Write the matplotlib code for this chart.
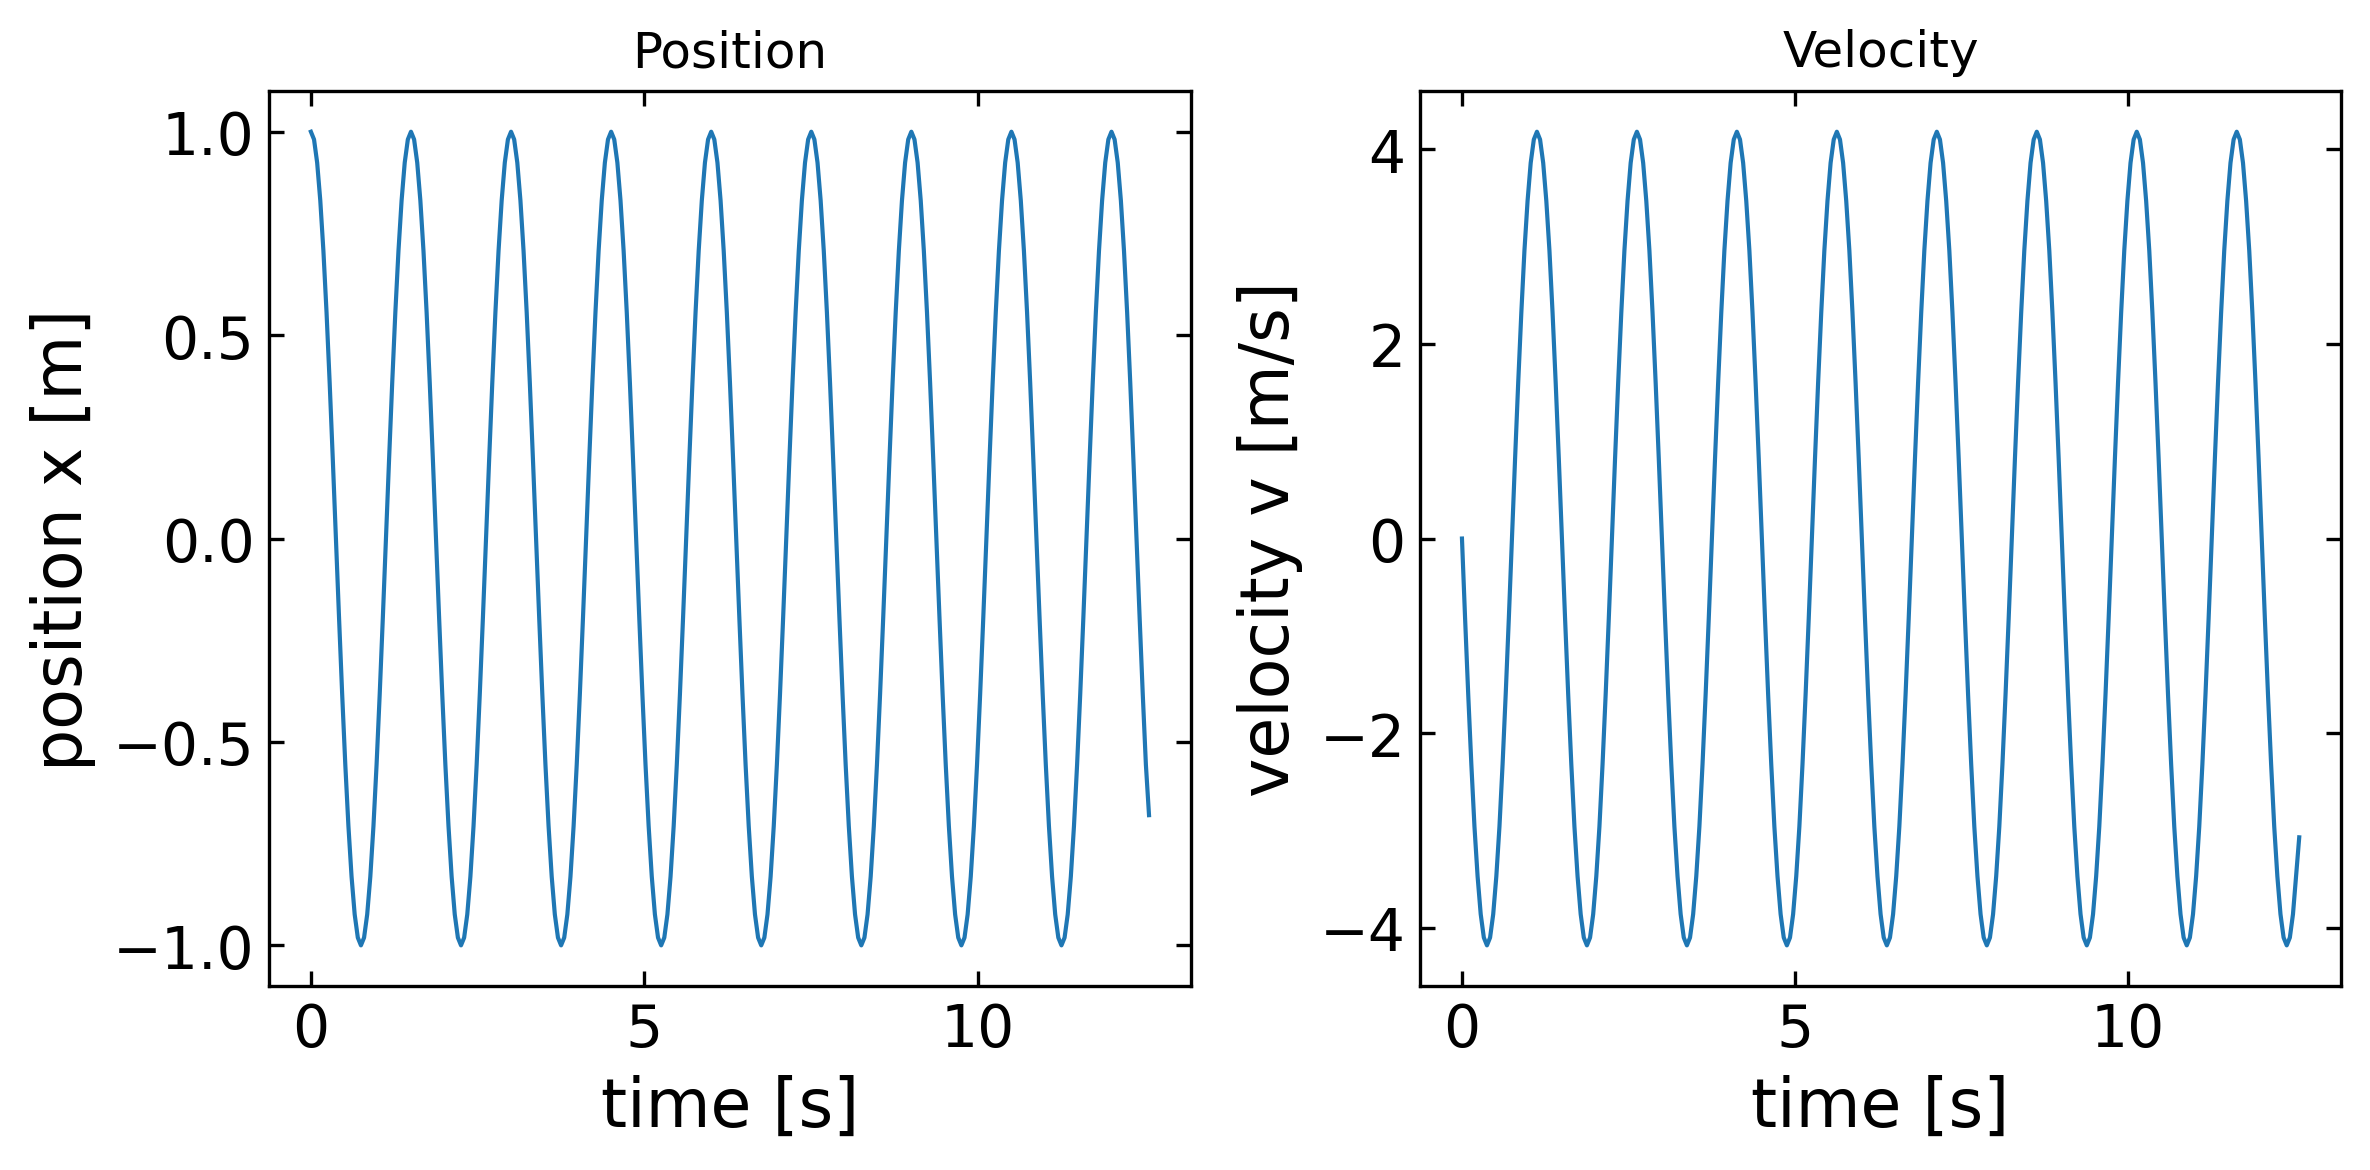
import numpy as np
import matplotlib.pyplot as plt

# values, one row per oscillation
position = [
    1.0, 0.981, 0.924, 0.831, 0.707, 0.556, 0.383, 0.195, 0.0, -0.195, -0.383, -0.556, -0.707, -0.831, -0.924, -0.981,
    -1.0, -0.981, -0.924, -0.831, -0.707, -0.556, -0.383, -0.195, 0.0, 0.195, 0.383, 0.556, 0.707, 0.831, 0.924, 0.981,
    1.0, 0.981, 0.924, 0.831, 0.707, 0.556, 0.383, 0.195, 0.0, -0.195, -0.383, -0.556, -0.707, -0.831, -0.924, -0.981,
    -1.0, -0.981, -0.924, -0.831, -0.707, -0.556, -0.383, -0.195, 0.0, 0.195, 0.383, 0.556, 0.707, 0.831, 0.924, 0.981,
    1.0, 0.981, 0.924, 0.831, 0.707, 0.556, 0.383, 0.195, 0.0, -0.195, -0.383, -0.556, -0.707, -0.831, -0.924, -0.981,
    -1.0, -0.981, -0.924, -0.831, -0.707, -0.556, -0.383, -0.195, 0.0, 0.195, 0.383, 0.556, 0.707, 0.831, 0.924, 0.981,
    1.0, 0.981, 0.924, 0.831, 0.707, 0.556, 0.383, 0.195, 0.0, -0.195, -0.383, -0.556, -0.707, -0.831, -0.924, -0.981,
    -1.0, -0.981, -0.924, -0.831, -0.707, -0.556, -0.383, -0.195, 0.0, 0.195, 0.383, 0.556, 0.707, 0.831, 0.924, 0.981,
    1.0, 0.981, 0.924, 0.831, 0.707, 0.556, 0.383, 0.195, 0.0, -0.195, -0.383, -0.556, -0.707, -0.831, -0.924, -0.981,
    -1.0, -0.981, -0.924, -0.831, -0.707, -0.556, -0.383, -0.195, 0.0, 0.195, 0.383, 0.556, 0.707, 0.831, 0.924, 0.981,
    1.0, 0.981, 0.924, 0.831, 0.707, 0.556, 0.383, 0.195, 0.0, -0.195, -0.383, -0.556, -0.707, -0.831, -0.924, -0.981,
    -1.0, -0.981, -0.924, -0.831, -0.707, -0.556, -0.383, -0.195, 0.0, 0.195, 0.383, 0.556, 0.707, 0.831, 0.924, 0.981,
    1.0, 0.981, 0.924, 0.831, 0.707, 0.556, 0.383, 0.195, 0.0, -0.195, -0.383, -0.556, -0.707, -0.831, -0.924, -0.981,
    -1.0, -0.981, -0.924, -0.831, -0.707, -0.556, -0.383, -0.195, 0.0, 0.195, 0.383, 0.556, 0.707, 0.831, 0.924, 0.981,
    1.0, 0.981, 0.924, 0.831, 0.707, 0.556, 0.383, 0.195, 0.0, -0.195, -0.383, -0.556, -0.707, -0.831, -0.924, -0.981,
    -1.0, -0.981, -0.924, -0.831, -0.707, -0.556, -0.383, -0.195, 0.0, 0.195, 0.383, 0.556, 0.707, 0.831, 0.924, 0.981,
    1.0, 0.981, 0.924, 0.831, 0.707, 0.556, 0.383, 0.195, 0.0, -0.195, -0.383, -0.556, -0.68,
]

velocity = [
    0.0, -0.82, -1.60, -2.32, -2.96, -3.47, -3.86, -4.10, -4.18, -4.10, -3.86, -3.47, -2.96, -2.32, -1.60, -0.82,
    0.0, 0.82, 1.60, 2.32, 2.96, 3.47, 3.86, 4.10, 4.18, 4.10, 3.86, 3.47, 2.96, 2.32, 1.60, 0.82,
    0.0, -0.82, -1.60, -2.32, -2.96, -3.47, -3.86, -4.10, -4.18, -4.10, -3.86, -3.47, -2.96, -2.32, -1.60, -0.82,
    0.0, 0.82, 1.60, 2.32, 2.96, 3.47, 3.86, 4.10, 4.18, 4.10, 3.86, 3.47, 2.96, 2.32, 1.60, 0.82,
    0.0, -0.82, -1.60, -2.32, -2.96, -3.47, -3.86, -4.10, -4.18, -4.10, -3.86, -3.47, -2.96, -2.32, -1.60, -0.82,
    0.0, 0.82, 1.60, 2.32, 2.96, 3.47, 3.86, 4.10, 4.18, 4.10, 3.86, 3.47, 2.96, 2.32, 1.60, 0.82,
    0.0, -0.82, -1.60, -2.32, -2.96, -3.47, -3.86, -4.10, -4.18, -4.10, -3.86, -3.47, -2.96, -2.32, -1.60, -0.82,
    0.0, 0.82, 1.60, 2.32, 2.96, 3.47, 3.86, 4.10, 4.18, 4.10, 3.86, 3.47, 2.96, 2.32, 1.60, 0.82,
    0.0, -0.82, -1.60, -2.32, -2.96, -3.47, -3.86, -4.10, -4.18, -4.10, -3.86, -3.47, -2.96, -2.32, -1.60, -0.82,
    0.0, 0.82, 1.60, 2.32, 2.96, 3.47, 3.86, 4.10, 4.18, 4.10, 3.86, 3.47, 2.96, 2.32, 1.60, 0.82,
    0.0, -0.82, -1.60, -2.32, -2.96, -3.47, -3.86, -4.10, -4.18, -4.10, -3.86, -3.47, -2.96, -2.32, -1.60, -0.82,
    0.0, 0.82, 1.60, 2.32, 2.96, 3.47, 3.86, 4.10, 4.18, 4.10, 3.86, 3.47, 2.96, 2.32, 1.60, 0.82,
    0.0, -0.82, -1.60, -2.32, -2.96, -3.47, -3.86, -4.10, -4.18, -4.10, -3.86, -3.47, -2.96, -2.32, -1.60, -0.82,
    0.0, 0.82, 1.60, 2.32, 2.96, 3.47, 3.86, 4.10, 4.18, 4.10, 3.86, 3.47, 2.96, 2.32, 1.60, 0.82,
    0.0, -0.82, -1.60, -2.32, -2.96, -3.47, -3.86, -4.10, -4.18, -4.10, -3.86, -3.47, -2.96, -2.32, -1.60, -0.82,
    0.0, 0.82, 1.60, 2.32, 2.96, 3.47, 3.86, 4.10, 4.18, 4.10, 3.86, 3.47, 2.96, 2.32, 1.60, 0.82,
    0.0, -0.82, -1.60, -2.32, -2.96, -3.47, -3.86, -4.10, -4.18, -4.10, -3.86, -3.47, -3.07,
]

t_end = 12.57  # last sample time [s]
time = np.linspace(0, t_end, len(position))

fig, (ax1, ax2) = plt.subplots(1, 2, figsize=(7.9, 3.9033), dpi=300)
ax1.set_position([0.1135, 0.1571, 0.5025 - 0.1135, 0.9214 - 0.1571])
ax2.set_position([0.5992, 0.1571, 0.9878 - 0.5992, 0.9214 - 0.1571])

ax1.plot(time, position, color='#1f77b4', lw=1)
ax1.set_title('Position', fontsize=12)
ax1.set_xlabel('time [s]', fontsize=16)
ax1.set_ylabel('position x [m]', fontsize=16)

ax2.plot(time, velocity, color='#1f77b4', lw=1)
ax2.set_title('Velocity', fontsize=12)
ax2.set_xlabel('time [s]', fontsize=16)
ax2.set_ylabel('velocity v [m/s]', fontsize=16)

for ax in (ax1, ax2):
    ax.tick_params(direction='in', top=True, right=True, labelsize=14)

plt.savefig('out.png', dpi=300)
